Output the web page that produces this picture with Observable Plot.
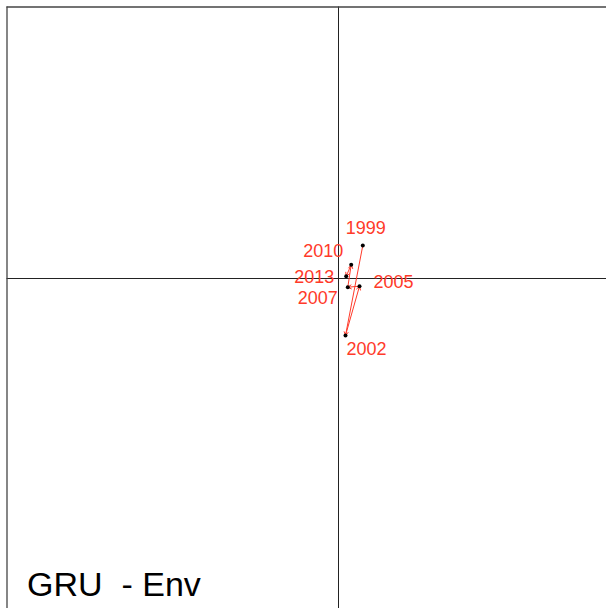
<!DOCTYPE html>
<html><head><meta charset="utf-8">
<script src="https://cdn.jsdelivr.net/npm/d3@7"></script>
<script src="https://cdn.jsdelivr.net/npm/@observablehq/plot@0.6"></script>
<style>body{margin:0;background:#fff;} #c{position:relative;width:606px;height:608px;overflow:hidden;}
#t{position:absolute;left:27px;top:565px;font-family:"Liberation Sans",Arial,sans-serif;font-size:34px;color:#000;white-space:pre;}</style>
</head><body><div id="c"></div>
<script>
const years = ["1999","2002","2005","2007","2010","2013"];
const xs = [0.243, 0.070, 0.210, 0.093, 0.127, 0.077];
const ys = [0.330, -0.570, -0.077, -0.087, 0.137, 0.023];
const title = "GRU  - Env";
const nudgeX = [3, 21, 34, -30, -28, -32];
const nudgeY = [-17, 14, -4, 11, -14, 1];

const pts = years.map((y,i)=>({year:y,x:xs[i],y:ys[i],dx:nudgeX[i],dy:nudgeY[i]}));
const segs = pts.slice(1).map((p,i)=>({x1:pts[i].x,y1:pts[i].y,x2:p.x,y2:p.y}));
const xd = [-3.38, 2.68], yd = [-3.30, 2.78];
const bx = -3.315, by = 2.715;
const red = "#ff3a2a";
const marks = [
  Plot.ruleX([0], {y1:yd[0], y2:by, stroke:"#222", strokeWidth:1}),
  Plot.ruleY([0], {x1:bx, x2:xd[1], stroke:"#222", strokeWidth:1}),
  Plot.ruleX([bx], {y1:yd[0], y2:by, stroke:"#444", strokeWidth:1.3}),
  Plot.ruleY([by], {x1:bx, x2:xd[1], stroke:"#444", strokeWidth:1.3}),
  Plot.arrow(segs, {x1:"x1",y1:"y1",x2:"x2",y2:"y2",stroke:red,strokeWidth:1,headLength:6,bend:false}),
  Plot.dot(pts, {x:"x",y:"y",r:2,fill:"#000",stroke:null}),
  ...pts.map(p=>Plot.text([p], {x:"x",y:"y",text:"year",dx:p.dx,dy:p.dy,fill:red,fontSize:18,fontFamily:"Liberation Sans, Arial, sans-serif"}))
];
const chart = Plot.plot({
  width:606, height:608, margin:0,
  x:{domain:xd, axis:null}, y:{domain:yd, axis:null},
  style:{background:"#fff"},
  marks
});
document.getElementById("c").appendChild(chart);
const t=document.createElement("div");t.id="t";t.textContent=title;document.getElementById("c").appendChild(t);
</script></body></html>
